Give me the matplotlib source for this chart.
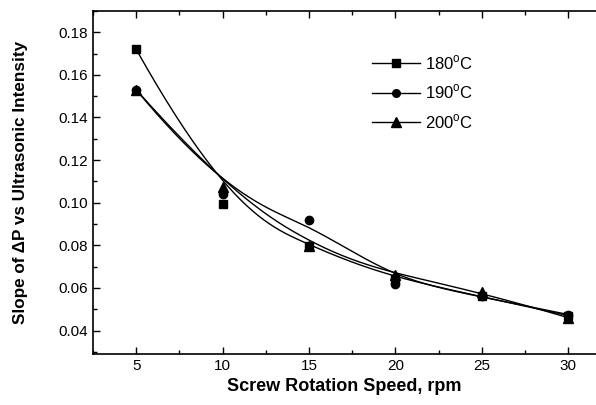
import numpy as np
import matplotlib
matplotlib.use("Agg")
import matplotlib.pyplot as plt
from matplotlib.ticker import MultipleLocator

plt.rcParams['font.family'] = ['Liberation Sans', 'DejaVu Sans']
plt.rcParams['mathtext.fontset'] = 'custom'
plt.rcParams['mathtext.rm'] = 'Liberation Sans'

speed = [5, 10, 15, 20, 25, 30]
slope_180 = [0.172, 0.0995, 0.0795, 0.0640, 0.0560, 0.0470]
slope_190 = [0.153, 0.1040, 0.0918, 0.0620, 0.0560, 0.0475]
slope_200 = [0.153, 0.1075, 0.0795, 0.0660, 0.0580, 0.0460]
labels = [r'180$^{\rm o}$C', r'190$^{\rm o}$C', r'200$^{\rm o}$C']
markers = ['s', 'o', '^']


def bspline(xs, ys, k=3, num=300):
    P = np.column_stack([xs, ys]).astype(float)
    n = len(P)
    t = np.concatenate([np.zeros(k), np.linspace(0, 1, n - k + 1), np.ones(k)])
    u = np.linspace(0, 1, num)
    u[-1] -= 1e-12

    def N(i, p, u):
        if p == 0:
            return ((t[i] <= u) & (u < t[i + 1])).astype(float)
        out = np.zeros_like(u)
        d1 = t[i + p] - t[i]
        d2 = t[i + p + 1] - t[i + 1]
        if d1 > 0:
            out += (u - t[i]) / d1 * N(i, p - 1, u)
        if d2 > 0:
            out += (t[i + p + 1] - u) / d2 * N(i + 1, p - 1, u)
        return out

    B = np.array([N(i, k, u) for i in range(n)])
    C = B.T @ P
    return C[:, 0], C[:, 1]


fig = plt.figure(figsize=(5.96, 4.05), dpi=100)
ax = fig.add_axes([0.156, 0.126, 0.844, 0.847])

handles = []
for ys, lab, mk in zip([slope_180, slope_190, slope_200], labels, markers):
    cx, cy = bspline(speed, ys)
    ax.plot(cx, cy, color='black', lw=1.0)
    ax.plot(speed, ys, linestyle='none', marker=mk, color='black', ms=6.5 if mk == '^' else 6)
    h, = ax.plot([], [], color='black', lw=1.0, marker=mk, ms=6.5 if mk == '^' else 5.5, label=lab)
    handles.append(h)

ax.set_xlim(2.5, 31.6)
ax.set_ylim(0.029, 0.19)
ax.xaxis.set_minor_locator(MultipleLocator(2.5))
ax.yaxis.set_minor_locator(MultipleLocator(0.01))
ax.set_yticks(np.arange(0.04, 0.181, 0.02))
ax.set_xticks(speed)
ax.set_yticklabels(['%.2f' % v for v in np.arange(0.04, 0.181, 0.02)])
ax.tick_params(which='both', direction='in', top=True, right=False, labelsize=11, width=1.0)
ax.tick_params(which='major', length=5)
ax.tick_params(which='minor', length=3)
for s in ['left', 'bottom', 'top']:
    ax.spines[s].set_linewidth(1.2)
ax.spines['right'].set_visible(False)

ax.set_xlabel('Screw Rotation Speed, rpm', fontsize=13, fontweight='bold', labelpad=4)
ax.set_ylabel('Slope of ΔP vs Ultrasonic Intensity', fontsize=12.3, fontweight='bold', labelpad=22)

ax.legend(handles=handles, loc='upper left', bbox_to_anchor=(0.555, 0.876), frameon=False,
          fontsize=12, handlelength=2.9, handletextpad=0.3, labelspacing=0.65,
          borderaxespad=0, borderpad=0)

fig.savefig('out.png', dpi=100)
